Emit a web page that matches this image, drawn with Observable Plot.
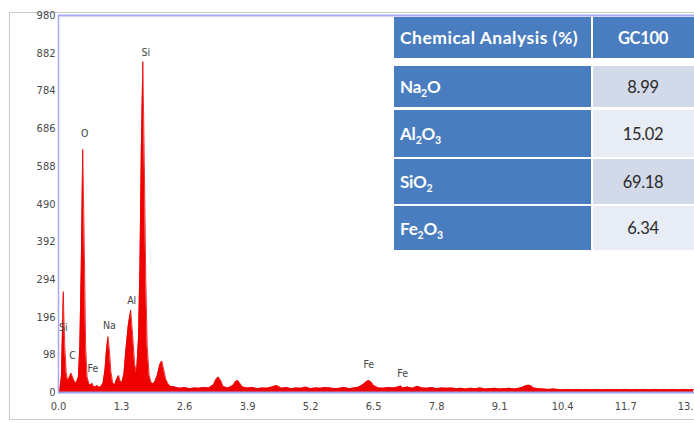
<!DOCTYPE html>
<html>
<head>
<meta charset="utf-8">
<script src="https://cdn.jsdelivr.net/npm/d3@7"></script>
<script src="https://cdn.jsdelivr.net/npm/@observablehq/plot@0.6"></script>
<style>
  html, body { margin: 0; padding: 0; background: #fff; }
  #wrap { position: relative; width: 694px; height: 423px; overflow: hidden; background: #fff; }
  #frame { position: absolute; left: 9px; top: 12px; width: 720px; height: 408px; border: 1px solid #c9c9c9; box-sizing: border-box; }
  #chart { position: absolute; left: 0; top: 0; }
  #table { position: absolute; left: 394px; top: 17px; width: 310px; font-family: Lato, "Open Sans", sans-serif; }
  .row { position: absolute; left: 0; display: flex; }
  .cell { display: flex; align-items: center; box-sizing: border-box; }
  .lab { width: 197px; background: #4a7dbf; color: #fff; font-weight: bold; padding-left: 6px; font-size: 17px; letter-spacing: -0.2px; }
  .hdr .lab { font-size: 17.5px; letter-spacing: 0.5px; }
  .val { margin-left: 2px; width: 110px; padding-right: 10px; justify-content: center; color: #2a2a2a; font-size: 16.5px; letter-spacing: -0.3px; }
  .hdr .val { background: #4a7dbf; color: #fff; font-weight: bold; }
  .odd .val { background: #d2d9e8; }
  .even .val { background: #e8ecf4; }
  sub { font-size: 0.62em; vertical-align: -0.35em; line-height: 0; }
</style>
</head>
<body>
<div id="wrap">
  <div id="frame"></div>
  <div id="chart"></div>
  <div id="table"></div>
</div>
<script>
// ---- EDS spectrum (energy in keV, counts) ----
const keV = [
  0.00,0.03,0.06,0.08,0.10,0.11,0.13,0.16,0.19,0.22,
  0.26,0.29,0.33,0.37,0.41,0.44,0.47,0.50,0.53,0.56,
  0.59,0.63,0.66,0.69,0.72,0.76,0.80,0.84,0.88,0.92,
  0.96,0.99,1.02,1.05,1.08,1.12,1.16,1.20,1.24,1.27,
  1.31,1.35,1.39,1.44,1.49,1.53,1.57,1.61,1.65,1.68,
  1.71,1.74,1.77,1.80,1.83,1.87,1.91,1.95,1.99,2.04,
  2.09,2.13,2.17,2.21,2.26,2.31,
  2.4,2.5,2.6,2.7,2.8,2.9,3.0,3.1,3.2,3.25,
  3.3,3.35,3.4,3.5,3.6,3.65,3.7,3.75,3.8,3.9,
  4.0,4.1,4.2,4.3,4.4,4.5,4.6,4.7,4.8,4.9,
  5.0,5.1,5.2,5.3,5.4,5.5,5.6,5.7,5.8,5.9,
  6.0,6.1,6.2,6.3,6.35,6.4,6.45,6.5,6.6,6.7,
  6.8,6.9,7.0,7.06,7.1,7.2,7.3,7.4,7.5,7.6,
  7.7,7.8,7.9,8.0,8.1,8.2,8.3,8.4,8.5,8.6,
  8.7,8.8,8.9,9.0,9.1,9.2,9.3,9.4,9.5,9.6,
  9.65,9.7,9.75,9.8,9.9,10.0,10.1,10.2,10.3,10.4,
  10.5,10.6,10.7,10.8,10.9,11.0,11.1,11.2,11.3,11.4,
  11.5,11.6,11.7,11.8,11.9,12.0,12.1,12.2,12.3,12.4,
  12.5,12.6,12.7,12.8,12.9,13.0,13.1
];
const counts = [
  0,10,40,150,262,200,120,50,30,38,
  50,40,28,25,40,120,330,632,400,120,
  40,22,18,24,16,14,18,13,16,24,
  60,110,145,110,55,24,20,34,44,30,
  26,48,110,175,214,150,75,50,140,330,
  640,860,600,300,120,45,26,22,28,45,
  72,82,60,35,22,16,
  14,11,13,10,12,11,13,12,20,34,
  40,30,15,12,18,28,31,22,14,12,
  13,10,12,11,14,18,11,13,10,12,
  11,14,10,12,11,13,12,10,11,13,
  10,12,14,22,28,31,27,18,12,11,
  13,12,14,17,12,14,11,16,12,11,
  13,10,12,11,12,10,11,9,11,10,
  12,9,10,11,9,10,11,9,11,15,
  18,19,17,12,10,9,8,9,8,7,
  8,7,8,7,8,7,8,7,8,7,
  8,7,8,7,8,7,8,7,8,7,
  8,7,8,7,8,7,8
];

// ---- peak labels ----
const peakNames  = ["Si", "C", "O", "Fe", "Na", "Al", "Si", "Fe", "Fe"];
const peakKeV    = [0.10, 0.29, 0.54, 0.71, 1.05, 1.51, 1.80, 6.40, 7.10];
const peakCounts = [169, 96, 673, 62, 174, 239, 884, 73, 49];

// ---- axis ticks ----
const yTicks = [0, 98, 196, 294, 392, 490, 588, 686, 784, 882, 980];
const xTicks = [0, 1.3, 2.6, 3.9, 5.2, 6.5, 7.8, 9.1, 10.4, 11.7, 13.0];

// ---- inset table ----
const tableHeader = ["Chemical Analysis (%)", "GC100"];
const oxides = ["Na2O", "Al2O3", "SiO2", "Fe2O3"];
const oxidePct = [8.99, 15.02, 69.18, 6.34];

const spectrum = keV.map((k, i) => ({keV: k, counts: counts[i]}));
const peaks = peakNames.map((n, i) => ({name: n, keV: peakKeV[i], counts: peakCounts[i]}));

const tickFont = '"Liberation Sans Narrow", "DejaVu Sans Condensed", "Liberation Sans", sans-serif';

const chart = Plot.plot({
  width: 694,
  height: 423,
  marginLeft: 58,
  marginRight: 0,
  marginTop: 15,
  marginBottom: 31,
  x: {domain: [0, 13.12]},
  y: {domain: [0, 980]},
  style: {background: "transparent", fontFamily: tickFont, fontSize: "11px", color: "#4a4a4a"},
  marks: [
    Plot.areaY(spectrum, {x: "keV", y: "counts", fill: "#f00000", curve: "linear"}),
    Plot.lineY(spectrum, {x: "keV", y: "counts", stroke: "#e80000", strokeWidth: 0.8}),
    Plot.ruleY([0], {stroke: "#9aa4f0", strokeWidth: 2}),
    Plot.ruleX([0], {stroke: "#a8a8f2", strokeWidth: 1.5}),
    Plot.ruleY([980], {stroke: "#a8a8f2", strokeWidth: 2}),
    Plot.axisY({ticks: yTicks, tickSize: 0, tickPadding: 3, label: null, tickFormat: d3.format("d")}),
    Plot.axisX({ticks: xTicks, tickSize: 0, tickPadding: 10, label: null, tickFormat: d3.format(".1f")}),
    Plot.text(peaks, {x: "keV", y: "counts", text: "name", fill: "#444", fontSize: 10.5, fontFamily: tickFont})
  ]
});
document.getElementById("chart").appendChild(chart);

// build table
const sub = s => s.replace(/(\d)/g, "<sub>$1</sub>");
const rowTops = [0, 49, 93, 142, 189];
const rowHeights = [41, 41, 47, 45, 44];
const tbl = document.getElementById("table");
const mkRow = (cls, top, h, a, b) => {
  const r = document.createElement("div");
  r.className = "row " + cls;
  r.style.top = top + "px";
  r.innerHTML = `<div class="cell lab" style="height:${h}px"><span>${a}</span></div><div class="cell val" style="height:${h}px"><span>${b}</span></div>`;
  tbl.appendChild(r);
};
mkRow("hdr", rowTops[0], rowHeights[0], tableHeader[0], tableHeader[1]);
oxides.forEach((o, i) => {
  mkRow(i % 2 === 0 ? "odd" : "even", rowTops[i + 1], rowHeights[i + 1], sub(o), oxidePct[i].toFixed(2));
});
</script>
</body>
</html>
